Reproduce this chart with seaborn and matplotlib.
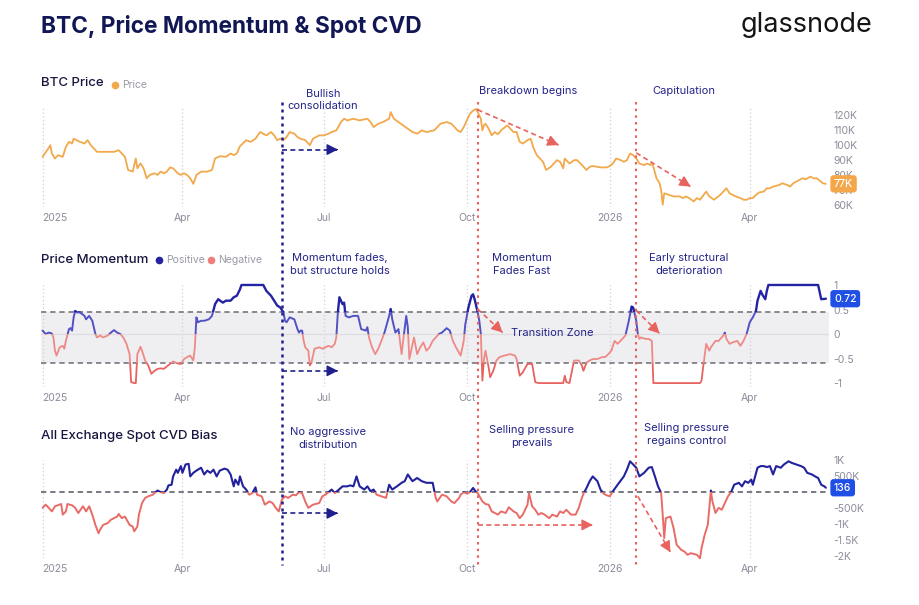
import numpy as np
import pandas as pd
import matplotlib
matplotlib.use("Agg")
import matplotlib.pyplot as plt
import matplotlib.dates as mdates
import seaborn as sns
from matplotlib.patches import Rectangle
from matplotlib.lines import Line2D
from matplotlib.transforms import blended_transform_factory

# ---------------- data (days since 2025-01-01) ----------------
price_days = [0, 3, 5, 6, 8, 10, 13, 15, 17, 19, 20, 22, 24, 27, 29, 31, 33, 35, 37, 42, 46, 49, 51, 53, 55, 58,
              60, 61, 63, 65, 67, 69, 72, 74, 76, 78, 80, 82, 84, 87, 89, 91, 93, 95, 97, 99, 102, 106, 109, 111,
              114, 118, 121, 123, 125, 127, 131, 134, 137, 140, 142, 144, 147, 149, 151, 153, 155, 157, 159, 162,
              164, 166, 169, 172, 174, 178, 181, 184, 186, 189, 192, 194, 196, 200, 204, 209, 211, 213, 216, 219,
              223, 224, 226, 229, 232, 235, 238, 241, 244, 247, 252, 256, 260, 263, 267, 269, 271, 273, 275, 277,
              279, 280, 282, 283, 284, 285, 287, 289, 291, 293, 295, 299, 301, 303, 305, 307, 309, 312, 314, 316,
              318, 320, 322, 324, 327, 329, 331, 333, 335, 336, 337, 339, 342, 344, 346, 348, 350, 352, 354, 359,
              363, 365, 367, 369, 372, 374, 376, 378, 380, 382, 384, 387, 389, 391, 392, 393, 395, 397, 398, 399,
              400, 403, 406, 410, 412, 414, 416, 419, 421, 423, 427, 429, 432, 436, 438, 440, 442, 444, 446, 449,
              451, 453, 455, 457, 459, 461, 464, 466, 468, 470, 472, 474, 476, 479, 481, 483, 485, 487, 489, 491,
              494, 496, 498, 500, 502, 504]
price_k = [92.2, 96.6, 99.9, 94.4, 91.1, 93.3, 92.2, 98.8, 102.1, 101.0, 104.2, 103.2, 102.1, 101.0, 103.2, 99.9,
           97.7, 95.5, 95.5, 95.5, 95.5, 96.6, 94.4, 92.2, 83.5, 82.4, 91.1, 84.6, 87.8, 84.6, 78.0, 80.2, 81.3,
           80.2, 82.4, 81.3, 82.4, 85.2, 84.6, 81.3, 80.2, 81.3, 80.2, 78.0, 74.3, 80.2, 82.4, 82.4, 83.5, 91.1,
           92.6, 92.2, 94.4, 93.3, 94.4, 99.2, 103.2, 102.1, 104.2, 108.6, 107.5, 106.4, 108.6, 106.4, 103.2,
           104.2, 103.2, 105.3, 108.6, 107.5, 105.3, 104.2, 103.2, 99.9, 104.2, 106.4, 106.4, 107.5, 108.6, 109.7,
           115.2, 117.4, 116.3, 117.4, 116.3, 117.4, 115.2, 111.9, 114.1, 115.2, 117.4, 121.8, 117.4, 115.2,
           113.0, 110.8, 108.6, 107.5, 109.7, 108.6, 109.7, 114.1, 115.2, 114.1, 109.7, 108.6, 111.9, 116.3,
           120.7, 122.8, 123.9, 121.8, 117.4, 109.7, 113.0, 114.1, 110.8, 106.4, 108.6, 107.1, 109.7, 113.0,
           110.8, 108.6, 108.6, 102.1, 101.0, 103.2, 104.2, 97.7, 93.3, 91.1, 88.9, 83.5, 85.6, 87.8, 90.0, 88.9,
           84.6, 91.1, 90.0, 87.8, 90.0, 90.0, 87.8, 85.6, 83.5, 85.6, 86.1, 85.2, 85.2, 86.1, 87.8, 91.1, 90.0,
           88.9, 90.0, 94.4, 93.3, 91.1, 87.8, 86.7, 87.8, 86.7, 87.8, 85.6, 78.0, 74.7, 70.3, 60.5, 68.1, 67.0,
           66.0, 66.0, 64.9, 66.0, 64.9, 62.7, 64.9, 63.8, 69.2, 66.0, 63.8, 67.0, 69.2, 71.4, 68.1, 67.0, 66.0,
           64.9, 63.8, 63.8, 64.9, 64.9, 67.0, 68.6, 69.2, 71.4, 71.4, 72.5, 73.0, 73.6, 74.7, 73.6, 72.5, 74.7,
           75.8, 76.9, 78.0, 77.3, 79.1, 78.0, 78.0, 76.5, 74.7, 74.3]

mom_days = [0, 2, 4, 6, 7, 8, 9, 11, 13, 14, 15, 17, 18, 19, 20, 21, 22, 24, 27, 28, 30, 32, 34, 35, 37, 39, 42,
            44, 46, 48, 50, 52, 54, 56, 57, 59, 60, 61, 63, 64, 66, 68, 70, 72, 74, 76, 78, 80, 82, 84, 87, 89, 91,
            93, 95, 97, 98, 99, 100, 102, 104, 107, 109, 111, 113, 116, 118, 121, 123, 125, 127, 128, 142, 144,
            147, 149, 151, 153, 155, 156, 157, 159, 162, 164, 165, 166, 167, 168, 169, 171, 172, 173, 175, 178,
            180, 182, 184, 186, 188, 189, 190, 191, 193, 194, 195, 197, 200, 203, 205, 208, 209, 210, 212, 214,
            216, 218, 220, 223, 224, 225, 227, 229, 231, 232, 234, 235, 236, 239, 241, 243, 245, 247, 249, 251,
            255, 257, 260, 262, 264, 266, 269, 271, 272, 274, 276, 277, 278, 280, 281, 282, 283, 284, 285, 287,
            288, 290, 292, 294, 297, 301, 304, 305, 307, 309, 312, 315, 317, 319, 335, 336, 337, 339, 342, 345,
            347, 348, 350, 352, 354, 357, 360, 362, 364, 366, 368, 370, 373, 375, 377, 379, 380, 382, 383, 384,
            385, 388, 390, 392, 393, 423, 424, 425, 426, 427, 429, 430, 433, 435, 438, 439, 440, 442, 444, 447,
            449, 451, 453, 455, 457, 459, 460, 462, 463, 465, 466, 467, 499, 501, 504]
mom_val = [0.07, 0.0, 0.03, 0.01, -0.07, -0.34, -0.44, -0.27, -0.24, -0.3, -0.14, 0.10, 0.12, 0.07, 0.34, 0.47,
           0.44, 0.44, 0.37, 0.30, 0.37, 0.27, 0.0, -0.07, -0.03, -0.07, -0.03, 0.03, 0.08, 0.03, 0.0, -0.07,
           -0.2, -0.41, -0.98, -1.0, -1.0, -0.41, -0.26, -0.34, -0.54, -0.64, -0.81, -0.75, -0.71, -0.70, -0.71,
           -0.66, -0.61, -0.56, -0.6, -0.61, -0.51, -0.47, -0.44, -0.54, -0.27, 0.34, 0.24, 0.27, 0.27, 0.30,
           0.37, 0.61, 0.71, 0.64, 0.68, 0.68, 0.75, 0.78, 0.91, 1.0, 1.0, 0.88, 0.78, 0.68, 0.58, 0.54, 0.44,
           0.27, 0.24, 0.34, 0.30, 0.10, 0.03, 0.07, 0.07, -0.14, -0.27, -0.34, -0.64, -0.58, -0.30, -0.27,
           -0.30, -0.27, -0.24, -0.27, -0.2, -0.07, 0.44, 0.75, 0.61, 0.64, 0.37, 0.34, 0.37, 0.37, 0.10, 0.07,
           0.14, -0.07, -0.27, -0.41, -0.30, -0.14, 0.03, 0.37, 0.51, 0.30, 0.03, 0.10, -0.41, -0.14, 0.37, 0.14,
           -0.51, -0.07, -0.41, -0.27, -0.17, -0.34, -0.27, -0.14, 0.0, 0.03, 0.12, 0.07, -0.14, -0.27, -0.44,
           -0.14, 0.2, 0.54, 0.78, 0.81, 0.71, 0.44, 0.27, 0.0, -0.95, -0.51, -0.34, -0.68, -0.88, -0.75, -0.54,
           -0.47, -0.44, -0.41, -0.44, -0.51, -0.85, -0.78, -0.61, -0.61, -0.98, -1.0, -1.0, -0.85, -0.98, -1.0,
           -0.54, -0.54, -0.64, -0.75, -0.58, -0.54, -0.51, -0.51, -0.47, -0.47, -0.41, -0.34, -0.14, -0.2,
           -0.1, -0.03, 0.24, 0.56, 0.54, 0.27, 0.0, -0.1, -0.07, -0.1, -0.1, -0.14, -1.0, -1.0, -0.95, -0.68,
           -0.44, -0.2, -0.34, -0.27, -0.14, -0.14, -0.03, 0.03, -0.1, -0.2, -0.17, -0.14, -0.24, -0.14, 0.0,
           0.24, 0.34, 0.47, 0.68, 0.88, 0.81, 0.71, 0.88, 1.0, 1.0, 0.71, 0.72]

cvd_days = [0, 2, 4, 6, 8, 12, 13, 15, 16, 19, 21, 23, 26, 28, 30, 32, 34, 36, 37, 39, 42, 44, 46, 48, 49, 51, 53,
            56, 58, 59, 61, 62, 64, 66, 68, 71, 72, 74, 76, 78, 80, 81, 83, 84, 86, 87, 89, 90, 92, 94, 95, 97, 99,
            102, 104, 106, 108, 110, 112, 114, 117, 119, 121, 123, 124, 126, 127, 129, 131, 133, 135, 137, 138,
            141, 143, 146, 148, 150, 152, 154, 156, 158, 161, 163, 165, 167, 169, 171, 174, 178, 180, 182, 184,
            186, 188, 190, 193, 196, 198, 200, 202, 204, 207, 209, 211, 213, 215, 218, 221, 223, 225, 228, 231,
            233, 235, 238, 241, 244, 247, 251, 253, 254, 257, 260, 263, 265, 268, 269, 271, 273, 275, 277, 279,
            280, 283, 285, 287, 289, 291, 293, 295, 298, 300, 303, 305, 307, 309, 312, 313, 315, 317, 319, 321,
            323, 326, 328, 331, 333, 335, 337, 340, 343, 345, 347, 348, 350, 352, 354, 357, 359, 361, 363, 365,
            367, 370, 374, 376, 378, 380, 382, 384, 387, 390, 392, 394, 396, 397, 398, 399, 400, 401, 404, 406,
            408, 411, 413, 415, 417, 421, 423, 424, 426, 428, 430, 431, 433, 435, 437, 439, 441, 443, 445, 448,
            450, 452, 454, 456, 457, 460, 462, 464, 466, 468, 470, 472, 475, 477, 480, 482, 485, 488, 490, 492,
            495, 497, 499, 501, 503, 504]
cvd_k = [-0.49, -0.39, -0.49, -0.6, -0.44, -0.37, -0.7, -0.6, -0.37, -0.41, -0.49, -0.65, -0.44, -0.6, -0.44,
         -0.7, -1.02, -1.28, -1.17, -1.02, -0.96, -0.86, -0.81, -0.76, -0.68, -0.81, -0.76, -1.02, -1.07, -1.22,
         -1.07, -0.7, -0.34, -0.18, -0.13, -0.08, -0.03, 0.05, 0.0, -0.03, 0.08, 0.21, 0.23, 0.49, 0.7, 0.6, 0.81,
         0.6, 0.86, 0.88, 0.49, 0.6, 0.67, 0.76, 0.55, 0.67, 0.6, 0.7, 0.49, 0.67, 0.73, 0.7, 0.55, 0.18, 0.39,
         0.23, 0.49, 0.18, 0.08, -0.08, -0.03, 0.15, -0.08, -0.13, -0.39, -0.29, -0.34, -0.49, -0.6, -0.23,
         -0.13, -0.18, -0.08, -0.1, 0.0, -0.03, -0.29, -0.49, -0.39, -0.34, -0.13, -0.08, 0.0, 0.08, -0.03, 0.05,
         0.18, 0.18, 0.21, 0.18, 0.49, 0.18, 0.08, 0.18, 0.03, 0.08, -0.08, -0.13, -0.18, 0.23, 0.08, 0.18, 0.29,
         0.34, 0.55, 0.34, 0.44, 0.34, 0.29, 0.29, -0.18, -0.29, -0.08, -0.13, -0.29, -0.34, -0.18, -0.08, 0.0,
         -0.05, 0.0, 0.13, 0.0, -0.03, -0.29, -0.37, -0.39, -0.6, -0.65, -0.7, -0.6, -0.65, -0.47, -0.6, -0.65,
         -0.81, -0.7, -0.39, -0.03, -0.44, -0.55, -0.7, -0.65, -0.7, -0.81, -0.7, -0.76, -0.6, -0.65, -0.55, -0.7,
         -0.7, -0.49, -0.18, -0.05, 0.13, 0.34, 0.49, 0.34, 0.08, -0.05, -0.1, -0.13, 0.03, 0.23, 0.49, 0.7,
         0.96, 0.86, 0.76, 0.49, 0.6, 0.76, 0.78, 0.49, 0.18, 0.08, -0.03, -0.7, -1.43, -0.81, -0.76, -1.12,
         -1.64, -1.8, -1.85, -1.95, -1.9, -1.95, -2.06, -1.74, -1.33, -1.02, 0.05, -0.29, -0.65, -0.49, -0.55,
         -0.34, -0.13, 0.0, 0.23, 0.29, 0.18, 0.34, 0.29, 0.39, 0.23, 0.76, 0.81, 0.81, 0.78, 0.81, 0.55, 0.81,
         0.76, 0.86, 0.96, 0.91, 0.86, 0.81, 0.76, 0.6, 0.55, 0.49, 0.44, 0.23, 0.18, 0.136]

tick_dates = ["2025-01-01", "2025-04-01", "2025-07-01", "2025-10-01", "2026-01-01", "2026-04-01"]
tick_labels = ["2025", "Apr", "Jul", "Oct", "2026", "Apr"]
price_ticks = [60, 70, 80, 90, 100, 110, 120]
price_tick_labels = ["60K", "70K", "80K", "90K", "100K", "110K", "120K"]
mom_ticks = [-1, -0.5, 0, 0.5, 1]
mom_tick_labels = ["-1", "-0.5", "0", "0.5", "1"]
cvd_ticks = [-2, -1.5, -1, -0.5, 0, 0.5, 1]
cvd_tick_labels = ["-2K", "-1.5K", "-1K", "-500K", "", "500K", "1K"]
badge_labels = ["77K", "0.72", "136"]
event_days = [154, 280, 382]   # Bullish consolidation / Breakdown / Capitulation

# ---------------- styling ----------------
sns.set_theme(style="white")
plt.rcParams['font.family'] = ['Inter', 'DejaVu Sans']
plt.rcParams['axes.unicode_minus'] = False

NAVY = "#1f1f8f"
TEXT_NAVY = "#24248a"
RED = "#e8625e"
ORANGE = "#f1a94c"
GRAY = "#8c8c9c"

START = pd.Timestamp("2025-01-01")


def to_date(d):
    return START + pd.to_timedelta(np.asarray(d, dtype=float), unit="D")


def dnum(d):
    return mdates.date2num(START + pd.Timedelta(days=float(d)))


W, H = 920, 605
fig = plt.figure(figsize=(W / 100, H / 100), dpi=100)
fig.patch.set_facecolor("white")


def fx(x):
    return x / W


def fy(y):
    return 1 - y / H


def ax_rect(x0, y0, x1, y1):
    return [x0 / W, 1 - y1 / H, (x1 - x0) / W, (y1 - y0) / H]


ax1 = fig.add_axes(ax_rect(41, 108, 829, 207))
ax2 = fig.add_axes(ax_rect(41, 284, 829, 387))
ax3 = fig.add_axes(ax_rect(41, 460, 829, 558))

df_p = pd.DataFrame({"date": to_date(price_days), "price": price_k})
df_m = pd.DataFrame({"date": to_date(mom_days), "mom": mom_val})
df_c = pd.DataFrame({"date": to_date(cvd_days), "cvd": cvd_k})

XL = (dnum(-1), dnum(506))


def clipped_line(ax, df, y, lo, hi, color, lw):
    n = len(ax.lines)
    sns.lineplot(data=df, x="date", y=y, ax=ax, color=color, lw=lw, estimator=None,
                 sort=False, legend=False, zorder=4)
    ln = ax.lines[n]
    x0, x1 = dnum(-60), dnum(600)
    ln.set_clip_path(Rectangle((x0, lo), x1 - x0, hi - lo, transform=ax.transData))
    ln.set_solid_joinstyle("round")


# price
sns.lineplot(data=df_p, x="date", y="price", ax=ax1, color=ORANGE, lw=1.3, estimator=None,
             sort=False, legend=False, zorder=4)

# momentum
ax2.axhspan(-0.6, 0.45, color="#efeff2", zorder=0, lw=0)
ax2.axhline(0, color="#dddde2", lw=0.9, zorder=1)
ax2.axhline(0.45, color="#6b6b74", lw=1.1, ls=(0, (3.5, 2.5)), zorder=2)
ax2.axhline(-0.6, color="#6b6b74", lw=1.1, ls=(0, (3.5, 2.5)), zorder=2)
clipped_line(ax2, df_m, "mom", 0.45, 3, "#2323a3", 1.7)
clipped_line(ax2, df_m, "mom", 0.0, 0.45, "#5252c4", 1.4)
clipped_line(ax2, df_m, "mom", -0.6, 0.0, "#ee8a86", 1.3)
clipped_line(ax2, df_m, "mom", -3, -0.6, "#e7635f", 1.3)

# cvd
ax3.axhline(0, color="#55555f", lw=1.1, ls=(0, (3.5, 2.5)), zorder=2)
clipped_line(ax3, df_c, "cvd", 0.0, 5, "#22229e", 1.5)
clipped_line(ax3, df_c, "cvd", -5, 0.0, "#e86b67", 1.4)

ax1.set_ylim(59, 124.5)
ax2.set_ylim(-1.08, 1.02)
ax3.set_ylim(-2.05, 1.0)

tick_dt = pd.to_datetime(tick_dates)
for ax, yt, ytl in [(ax1, price_ticks, price_tick_labels),
                    (ax2, mom_ticks, mom_tick_labels),
                    (ax3, cvd_ticks, cvd_tick_labels)]:
    ax.set_xlim(XL)
    for d in tick_dt:
        ax.axvline(mdates.date2num(d), color="#cfcfd8", lw=0.9, ls=(0, (1, 2)), zorder=0)
    ax.set_xticks([mdates.date2num(d) for d in tick_dt])
    ax.set_xticklabels(tick_labels)
    ax.set_yticks(yt)
    ax.set_yticklabels(ytl)
    ax.yaxis.tick_right()
    ax.tick_params(axis="x", length=0, pad=4, labelsize=7.5, labelcolor=GRAY)
    ax.tick_params(axis="y", length=0, pad=3, labelsize=7.5, labelcolor=GRAY)
    for s in ax.spines.values():
        s.set_visible(False)
    ax.set_xlabel("")
    ax.set_ylabel("")
    ax.set_facecolor("none")
    ax.grid(False)
    ax.xaxis.get_majorticklabels()[0].set_horizontalalignment("left")


# badges
def badge(ax, yval, text, color):
    tr = blended_transform_factory(ax.transAxes, ax.transData)
    ax.text(1.0 + 5 / 788, yval, text, transform=tr, ha="left", va="center", fontsize=7.5,
            color="white", fontweight="medium",
            bbox=dict(boxstyle="round,pad=0.35,rounding_size=0.3", fc=color, ec="none"),
            clip_on=False, zorder=10)


badge(ax1, price_k[-1], badge_labels[0], "#f3a64a")
badge(ax2, mom_val[-1], badge_labels[1], "#1f4fe4")
badge(ax3, cvd_k[-1], badge_labels[2], "#1f4fe4")


# arrows: dashed shaft + small solid triangular head
def arrow(ax, d0, v0, d1, v1, color):
    x0, x1 = dnum(d0), dnum(d1)
    ax.plot([x0, x1], [v0, v1], color=color, lw=1.2, ls=(0, (3, 2)), zorder=6, clip_on=False)
    t = 0.02
    ax.annotate("", xy=(x1, v1), xytext=(x1 - t * (x1 - x0), v1 - t * (v1 - v0)),
                arrowprops=dict(arrowstyle="-|>,head_length=0.55,head_width=0.28", color=color, lw=1.0,
                                shrinkA=0, shrinkB=0),
                annotation_clip=False, zorder=7)


arrow(ax1, 154, 97, 190, 97, NAVY)
arrow(ax2, 154, -0.75, 190, -0.75, NAVY)
arrow(ax3, 154, -0.66, 190, -0.66, NAVY)
arrow(ax1, 280, 123.3, 332, 100, RED)
arrow(ax1, 382, 94.8, 417, 72.5, RED)
arrow(ax2, 280, 0.51, 296, 0.03, RED)
arrow(ax2, 382, 0.48, 397, 0.01, RED)
arrow(ax3, 280, -1.02, 354, -1.02, RED)
arrow(ax3, 383, -0.13, 404, -1.87, RED)


# vertical event lines spanning all panels
def vline_fig(day, color, lw, ls):
    xd = ax1.transData.transform((dnum(day), 0))[0]
    xf = fig.transFigure.inverted().transform((xd, 0))[0]
    fig.add_artist(Line2D([xf, xf], [fy(102), fy(565)], transform=fig.transFigure,
                          color=color, lw=lw, ls=ls, zorder=5))


vline_fig(event_days[0], NAVY, 1.8, (0, (1.2, 1.6)))
vline_fig(event_days[1], RED, 1.5, (0, (1.2, 2.0)))
vline_fig(event_days[2], RED, 1.5, (0, (1.2, 2.0)))

# titles
fig.text(fx(41), fy(27), "BTC, Price Momentum & Spot CVD", fontsize=16.3, fontweight="bold",
         color="#111655", ha="left", va="center")
fig.text(fx(872), fy(25), "glassnode", fontsize=19.5, color="#151515", ha="right", va="center")

fig.text(fx(41), fy(83), "BTC Price", fontsize=9.5, fontweight="medium", color="#16163f", ha="left", va="center")
fig.add_artist(Line2D([fx(115)], [fy(85)], marker="o", ms=4.5, color=ORANGE, transform=fig.transFigure, lw=0))
fig.text(fx(122), fy(85), "Price", fontsize=7.5, color="#9a9aa8", ha="left", va="center")

fig.text(fx(41), fy(260), "Price Momentum", fontsize=9.5, fontweight="medium", color="#16163f", ha="left", va="center")
fig.add_artist(Line2D([fx(159)], [fy(260)], marker="o", ms=4.5, color="#2323a3", transform=fig.transFigure, lw=0))
fig.text(fx(166), fy(260), "Positive", fontsize=7.5, color="#9a9aa8", ha="left", va="center")
fig.add_artist(Line2D([fx(211)], [fy(260)], marker="o", ms=4.5, color="#ee7f7b", transform=fig.transFigure, lw=0))
fig.text(fx(218), fy(260), "Negative", fontsize=7.5, color="#9a9aa8", ha="left", va="center")

fig.text(fx(41), fy(436), "All Exchange Spot CVD Bias", fontsize=9.5, fontweight="medium", color="#16163f",
         ha="left", va="center")

# annotations
ann = dict(fontsize=8, color=TEXT_NAVY, va="center", linespacing=1.3)
fig.text(fx(323), fy(100), "Bullish\nconsolidation", ha="center", multialignment="center", **ann)
fig.text(fx(479), fy(91), "Breakdown begins", ha="left", **ann)
fig.text(fx(652), fy(91), "Capitulation", ha="left", **ann)
fig.text(fx(340), fy(264.5), "Momentum fades,\nbut structure holds", ha="center", multialignment="center", **ann)
fig.text(fx(522), fy(264.5), "Momentum\nFades Fast", ha="center", multialignment="center", **ann)
fig.text(fx(689), fy(264.5), "Early structural\ndeterioration", ha="center", multialignment="center", **ann)
fig.text(fx(552), fy(333), "Transition Zone", ha="center", fontsize=8, color=TEXT_NAVY, va="center")
fig.text(fx(328), fy(438.5), "No aggressive\ndistribution", ha="center", multialignment="center", **ann)
fig.text(fx(532), fy(436.5), "Selling pressure\nprevails", ha="center", multialignment="center", **ann)
fig.text(fx(687), fy(434.5), "Selling pressure\nregains control", ha="center", multialignment="center", **ann)

fig.savefig("out.png", dpi=100, facecolor="white")
